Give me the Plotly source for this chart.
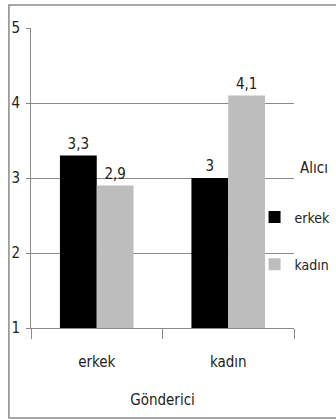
import plotly.graph_objects as go

categories = ["erkek", "kadın"]
series_names = ["erkek", "kadın"]
values_erkek = [3.3, 3.0]
values_kadin = [2.9, 4.1]
colors = ["#000000", "#BDBDBD"]
y_ticks = [1, 2, 3, 4, 5]

FONT = "Liberation Sans Narrow, Arial Narrow, DejaVu Sans Condensed, Roboto Condensed, sans-serif"

fig = go.Figure()
for name, vals, col in zip(series_names, [values_erkek, values_kadin], colors):
    fig.add_trace(go.Bar(
        x=categories, y=vals, name=name, marker=dict(color=col, line=dict(width=0)),
        text=[("%g" % v).replace(".", ",") for v in vals], textposition="outside",
        textfont=dict(family=FONT, size=15, color="#222"), cliponaxis=False,
        legendgroup=name,
    ))

fig.update_layout(
    width=336, height=419,
    margin=dict(l=31, r=42, t=28, b=91, autoexpand=False),
    paper_bgcolor="white", plot_bgcolor="white",
    font=dict(family=FONT, size=15, color="#222"),
    barmode="group", bargap=0.44, bargroupgap=0,
    showlegend=True,
    legend=dict(x=0.85, y=0.29, xanchor="left", yanchor="middle",
                bgcolor="rgba(0,0,0,0)", tracegroupgap=26,
                font=dict(family=FONT, size=14, color="#222"),
                traceorder="grouped"),
    annotations=[dict(text="Alıcı", x=1.015, y=0.535, xref="paper", yref="paper",
                      xanchor="left", yanchor="middle", showarrow=False,
                      font=dict(family=FONT, size=15, color="#222"))],
    shapes=[dict(type="rect", xref="paper", yref="paper", x0=-0.084, x1=1.3,
                 y0=-0.3, y1=1.077, line=dict(color="#8a8a8a", width=1.5),
                 fillcolor="rgba(0,0,0,0)", layer="below")],
)
fig.update_yaxes(range=[1, 5], tickvals=y_ticks, showgrid=True, gridcolor="#8a8a8a",
                 gridwidth=1, showline=True, linecolor="#8a8a8a", linewidth=1,
                 ticks="outside", ticklen=4, tickcolor="#8a8a8a",
                 ticklabelstandoff=3, zeroline=False,
                 tickfont=dict(family=FONT, size=15, color="#222"))
fig.update_xaxes(showline=True, linecolor="#8a8a8a", linewidth=1,
                 ticks="outside", tickson="boundaries", ticklen=10, tickcolor="#8a8a8a",
                 ticklabelstandoff=20,
                 title=dict(text="Gönderici", standoff=24,
                            font=dict(family=FONT, size=15, color="#222")),
                 tickfont=dict(family=FONT, size=15, color="#222"))

fig.write_html("out.html")
